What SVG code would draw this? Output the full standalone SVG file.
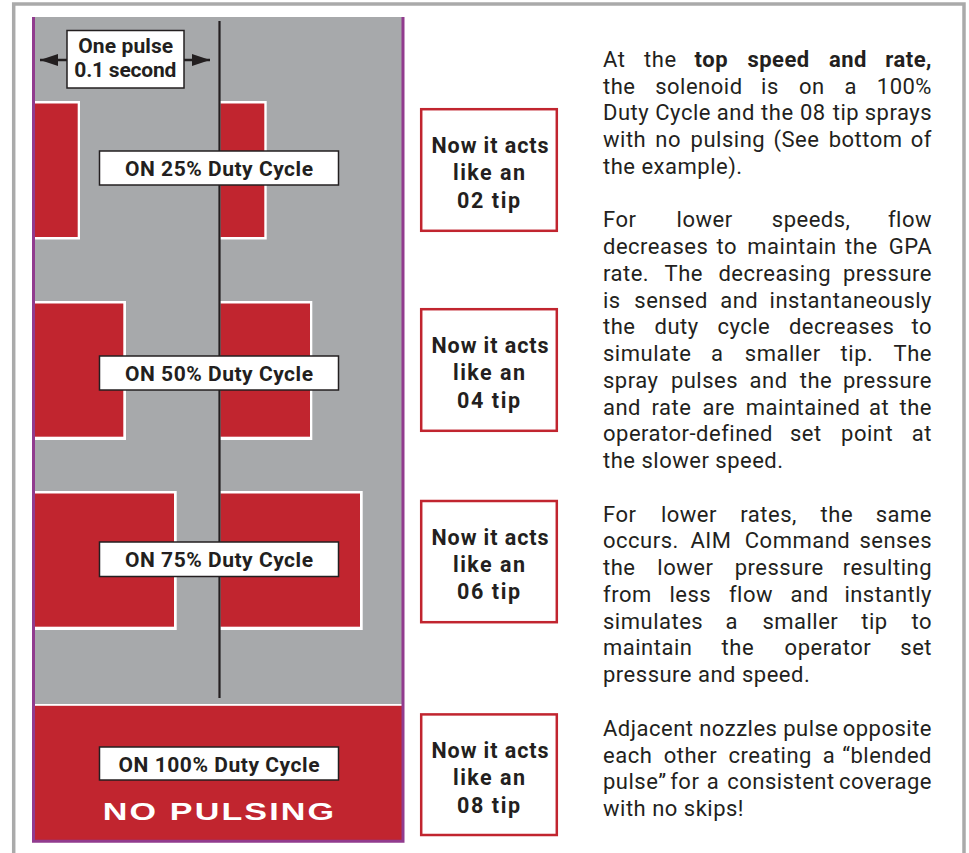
<svg xmlns="http://www.w3.org/2000/svg" width="969" height="853" viewBox="0 0 969 853">
<defs>
<style>
.body{font-family:Roboto,"Liberation Sans",sans-serif;font-size:22px;letter-spacing:0.5px;fill:#231f20}
.b{font-weight:700}
.lbl{font-family:Roboto,"Liberation Sans",sans-serif;font-weight:700;font-size:21px;fill:#231f20;text-anchor:middle}
.tip{font-size:21.5px}
.lblbox{fill:#fff;stroke:#231f20;stroke-width:1.5}
.tipbox{fill:#fff;stroke:#c1252f;stroke-width:2.5}
.red{fill:#c1252f}
.wht{fill:#fff}
.purple{stroke:#913b8e;stroke-width:3;fill:none}
.conn{stroke:#231f20;stroke-width:2.5;fill:none}
</style>
<marker id="ah" markerUnits="userSpaceOnUse" markerWidth="18" markerHeight="12" refX="18" refY="6" orient="auto" viewBox="0 0 18 12">
<path d="M0,0 L18,6 L0,12 z" fill="#231f20"/>
</marker>
</defs>
<rect width="969" height="853" fill="#fff"/>
<path d="M13.7,853 V4 H964 V853" fill="none" stroke="#aaaaaa" stroke-width="3.5"/>

<g id="panel">
<rect x="35" y="17" width="367" height="687" fill="#a7a9ab"/>
<rect x="35" y="704" width="367" height="1.8" fill="#fff"/>
<rect x="35" y="705.8" width="367" height="134.5" class="red"/>
<path class="purple" d="M33.5,17 V841.3 H403 V17"/>
</g>

<g id="pulse-25">
<rect x="35" y="101" width="45" height="138.5" class="wht"/>
<rect x="35" y="103.5" width="42.7" height="133.5" class="red"/>
<rect x="220" y="101" width="46.7" height="138.5" class="wht"/>
<rect x="220.5" y="103.5" width="43.8" height="133.5" class="red"/>
</g>
<g id="pulse-50">
<rect x="35" y="301" width="91" height="139" class="wht"/>
<rect x="35" y="303.5" width="88.3" height="133.2" class="red"/>
<rect x="220" y="301" width="92.3" height="139" class="wht"/>
<rect x="220.5" y="303.5" width="89.5" height="133.2" class="red"/>
</g>
<g id="pulse-75">
<rect x="35" y="491" width="141.7" height="139" class="wht"/>
<rect x="35" y="493.5" width="139" height="133.2" class="red"/>
<rect x="220" y="491" width="142.7" height="139" class="wht"/>
<rect x="220.5" y="493.5" width="139.5" height="133.2" class="red"/>
</g>

<g id="connectors">
<line x1="219.5" y1="21" x2="219.5" y2="698" stroke="#231f20" stroke-width="2.2"/>
<line class="conn" x1="67" y1="60" x2="40" y2="60" marker-end="url(#ah)"/>
<line class="conn" x1="184" y1="60" x2="210" y2="60" marker-end="url(#ah)"/>
</g>

<g id="one-pulse">
<rect x="67" y="30.5" width="117" height="57.5" class="lblbox"/>
<text class="lbl" x="125.7" y="53.3" textLength="95" lengthAdjust="spacing">One pulse</text>
<text class="lbl" x="125.3" y="76.7" textLength="102" lengthAdjust="spacing">0.1 second</text>
</g>

<g id="label-25">
<rect x="99.5" y="151" width="239" height="34" class="lblbox"/>
<text class="lbl" x="219" y="176" textLength="188" lengthAdjust="spacing">ON 25% Duty Cycle</text>
</g>
<g id="label-50">
<rect x="99.5" y="356" width="239" height="34" class="lblbox"/>
<text class="lbl" x="219" y="381" textLength="188" lengthAdjust="spacing">ON 50% Duty Cycle</text>
</g>
<g id="label-75">
<rect x="99.5" y="542" width="239" height="34.5" class="lblbox"/>
<text class="lbl" x="219" y="567.3" textLength="188" lengthAdjust="spacing">ON 75% Duty Cycle</text>
</g>
<g id="label-100">
<rect x="99.5" y="747" width="239" height="33" class="lblbox"/>
<text class="lbl" x="219" y="771.7" textLength="201" lengthAdjust="spacing">ON 100% Duty Cycle</text>
<text x="0" y="0" transform="translate(219.5,820) scale(1.42,1)" text-anchor="middle" font-family="'Liberation Sans',Arial,sans-serif" font-weight="700" font-size="24" letter-spacing="1.5" fill="#fff">NO PULSING</text>
</g>

<g id="tip-02">
<rect x="421.2" y="109.2" width="135.6" height="121.6" class="tipbox"/>
<text class="lbl tip" x="490" y="152.7" textLength="117" lengthAdjust="spacing">Now it acts</text>
<text class="lbl tip" x="489" y="180" textLength="72" lengthAdjust="spacing">like an</text>
<text class="lbl tip" x="488.5" y="207.5" textLength="63" lengthAdjust="spacing">02 tip</text>
</g>
<g id="tip-04">
<rect x="421.2" y="309.2" width="135.6" height="121.6" class="tipbox"/>
<text class="lbl tip" x="490" y="352.7" textLength="117" lengthAdjust="spacing">Now it acts</text>
<text class="lbl tip" x="489" y="380" textLength="72" lengthAdjust="spacing">like an</text>
<text class="lbl tip" x="488.5" y="407.5" textLength="63" lengthAdjust="spacing">04 tip</text>
</g>
<g id="tip-06">
<rect x="421.2" y="501" width="135.6" height="121.2" class="tipbox"/>
<text class="lbl tip" x="490" y="544.5" textLength="117" lengthAdjust="spacing">Now it acts</text>
<text class="lbl tip" x="489" y="571.8" textLength="72" lengthAdjust="spacing">like an</text>
<text class="lbl tip" x="488.5" y="599.3" textLength="63" lengthAdjust="spacing">06 tip</text>
</g>
<g id="tip-08">
<rect x="421.2" y="714.4" width="135.6" height="120.6" class="tipbox"/>
<text class="lbl tip" x="490" y="757.7" textLength="117" lengthAdjust="spacing">Now it acts</text>
<text class="lbl tip" x="489" y="785" textLength="72" lengthAdjust="spacing">like an</text>
<text class="lbl tip" x="488.5" y="812.5" textLength="63" lengthAdjust="spacing">08 tip</text>
</g>

<g id="description" class="body">
<text y="66.7"><tspan x="603">At</tspan><tspan x="644.1">the</tspan><tspan x="694.6" class="b">top</tspan><tspan x="747.4" class="b">speed</tspan><tspan x="829" class="b">and</tspan><tspan x="932" class="b" text-anchor="end">rate,</tspan></text>
<text y="93.5"><tspan x="603">the</tspan><tspan x="655.2">solenoid</tspan><tspan x="761.1">is</tspan><tspan x="798.9">on</tspan><tspan x="844.5">a</tspan><tspan x="932" text-anchor="end">100%</tspan></text>
<text y="120.2"><tspan x="603">Duty</tspan><tspan x="655.3">Cycle</tspan><tspan x="716.8">and</tspan><tspan x="761.1">the</tspan><tspan x="800">08</tspan><tspan x="832.8">tip</tspan><tspan x="932" text-anchor="end">sprays</tspan></text>
<text y="147"><tspan x="603">with</tspan><tspan x="655.3">no</tspan><tspan x="690.6">pulsing</tspan><tspan x="773.5">(See</tspan><tspan x="828.7">bottom</tspan><tspan x="932" text-anchor="end">of</tspan></text>
<text x="603" y="173.7">the example).</text>

<text y="227.3"><tspan x="603">For</tspan><tspan x="676.6">lower</tspan><tspan x="771.8">speeds,</tspan><tspan x="932" text-anchor="end">flow</tspan></text>
<text y="254"><tspan x="603">decreases</tspan><tspan x="716.5">to</tspan><tspan x="747.3">maintain</tspan><tspan x="845.1">the</tspan><tspan x="932" text-anchor="end">GPA</tspan></text>
<text y="280.8"><tspan x="603">rate.</tspan><tspan x="664.5">The</tspan><tspan x="718.4">decreasing</tspan><tspan x="932" text-anchor="end">pressure</tspan></text>
<text y="307.5"><tspan x="603">is</tspan><tspan x="634.3">sensed</tspan><tspan x="720.2">and</tspan><tspan x="932" text-anchor="end">instantaneously</tspan></text>
<text y="334.3"><tspan x="603">the</tspan><tspan x="654.5">duty</tspan><tspan x="717.4">cycle</tspan><tspan x="788.9">decreases</tspan><tspan x="932" text-anchor="end">to</tspan></text>
<text y="361.1"><tspan x="603">simulate</tspan><tspan x="710.9">a</tspan><tspan x="744.8">smaller</tspan><tspan x="840.6">tip.</tspan><tspan x="932" text-anchor="end">The</tspan></text>
<text y="387.8"><tspan x="603">spray</tspan><tspan x="670.9">pulses</tspan><tspan x="749.6">and</tspan><tspan x="799.8">the</tspan><tspan x="932" text-anchor="end">pressure</tspan></text>
<text y="414.6"><tspan x="603">and</tspan><tspan x="651.6">rate</tspan><tspan x="702.5">are</tspan><tspan x="745.8">maintained</tspan><tspan x="869.1">at</tspan><tspan x="932" text-anchor="end">the</tspan></text>
<text y="441.3"><tspan x="603">operator-defined</tspan><tspan x="789.9">set</tspan><tspan x="841.1">point</tspan><tspan x="932" text-anchor="end">at</tspan></text>
<text x="603" y="468.1">the slower speed.</text>

<text y="521.6"><tspan x="603">For</tspan><tspan x="660.9">lower</tspan><tspan x="740.3">rates,</tspan><tspan x="820.6">the</tspan><tspan x="932" text-anchor="end">same</tspan></text>
<text y="548.4"><tspan x="603">occurs.</tspan><tspan x="690.4">AIM</tspan><tspan x="744.8">Command</tspan><tspan x="932" text-anchor="end">senses</tspan></text>
<text y="575.1"><tspan x="603">the</tspan><tspan x="657.3">lower</tspan><tspan x="734.7">pressure</tspan><tspan x="932" text-anchor="end">resulting</tspan></text>
<text y="601.9"><tspan x="603">from</tspan><tspan x="669.5">less</tspan><tspan x="728.9">flow</tspan><tspan x="790.6">and</tspan><tspan x="932" text-anchor="end">instantly</tspan></text>
<text y="628.7"><tspan x="603">simulates</tspan><tspan x="725.5">a</tspan><tspan x="762.4">smaller</tspan><tspan x="861.2">tip</tspan><tspan x="932" text-anchor="end">to</tspan></text>
<text y="655.4"><tspan x="603">maintain</tspan><tspan x="721.6">the</tspan><tspan x="784.6">operator</tspan><tspan x="932" text-anchor="end">set</tspan></text>
<text x="603" y="682.2">pressure and speed.</text>

<text y="735.7"><tspan x="603">Adjacent</tspan><tspan x="699.2">nozzles</tspan><tspan x="783.2">pulse</tspan><tspan x="932" text-anchor="end">opposite</tspan></text>
<text y="762.5"><tspan x="603">each</tspan><tspan x="663.7">other</tspan><tspan x="728.5">creating</tspan><tspan x="822.8">a</tspan><tspan x="932" text-anchor="end">“blended</tspan></text>
<text y="789.2"><tspan x="603">pulse”</tspan><tspan x="670.2">for</tspan><tspan x="706.8">a</tspan><tspan x="727.2">consistent</tspan><tspan x="932" text-anchor="end">coverage</tspan></text>
<text x="603" y="816">with no skips!</text>
</g>
</svg>
